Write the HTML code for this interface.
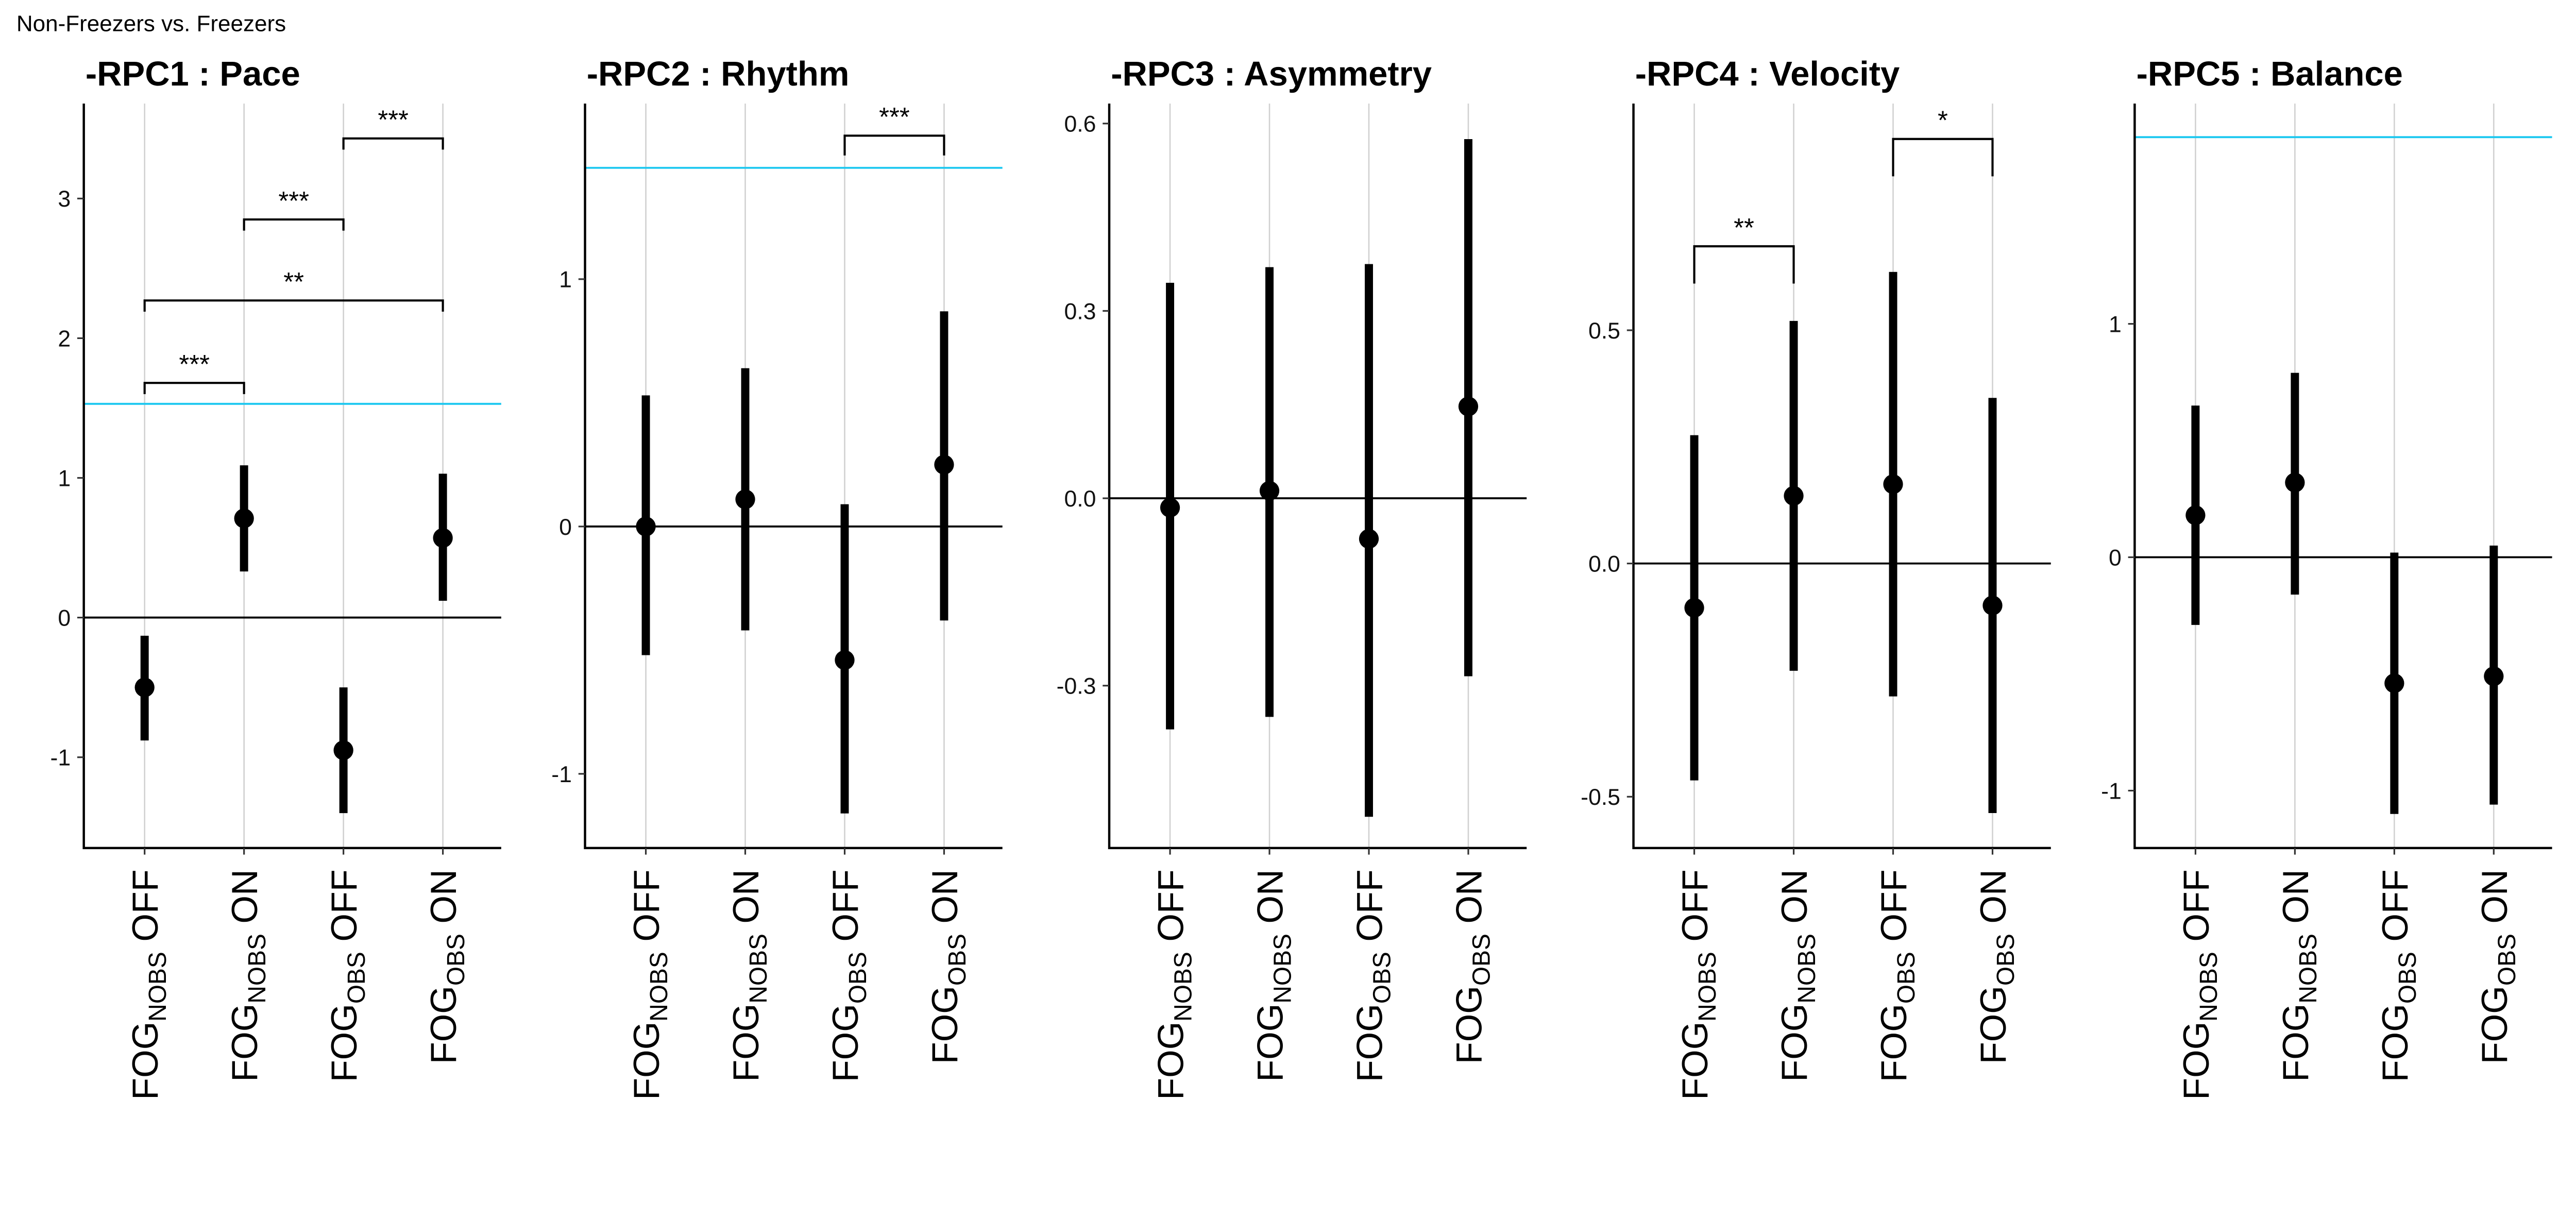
<!DOCTYPE html>
<html><head><meta charset="utf-8"><style>
html,body{margin:0;padding:0;background:#fff;overflow:hidden;}
svg{display:block;}
text{font-family:"Liberation Sans",Arial,sans-serif;}
</style></head><body>
<svg id="chart" width="5314" height="2362" viewBox="0 0 1666 740.5" preserveAspectRatio="none" xmlns="http://www.w3.org/2000/svg">
<rect width="1666" height="740.5" fill="#fff"/>
<text x="10" y="19" font-size="13.8" fill="#000">Non-Freezers vs. Freezers</text>
</svg>
<script>
const panelTitles = ["-RPC1 : Pace", "-RPC2 : Rhythm", "-RPC3 : Asymmetry", "-RPC4 : Velocity", "-RPC5 : Balance"];
const categories = [["FOG","NOBS"," OFF"],["FOG","NOBS"," ON"],["FOG","OBS"," OFF"],["FOG","OBS"," ON"]];
const means = [[-0.50,0.71,-0.95,0.57],[0.00,0.11,-0.54,0.25],[-0.015,0.012,-0.065,0.147],[-0.095,0.145,0.17,-0.09],[0.18,0.32,-0.54,-0.51]];
const lows = [[-0.88,0.33,-1.40,0.12],[-0.52,-0.42,-1.16,-0.38],[-0.37,-0.35,-0.51,-0.285],[-0.465,-0.23,-0.285,-0.535],[-0.29,-0.16,-1.10,-1.06]];
const highs = [[-0.13,1.09,-0.50,1.03],[0.53,0.64,0.09,0.87],[0.345,0.37,0.375,0.575],[0.275,0.52,0.625,0.355],[0.65,0.79,0.02,0.05]];
const yMins = [-1.65,-1.30,-0.56,-0.61,-1.246];
const yMaxs = [3.68,1.71,0.632,0.986,1.944];
const yTicks = [[-1,0,1,2,3],[-1,0,1],[-0.3,0,0.3,0.6],[-0.5,0,0.5],[-1,0,1]];
const yTickLabels = [["-1","0","1","2","3"],["-1","0","1"],["-0.3","0.0","0.3","0.6"],["-0.5","0.0","0.5"],["-1","0","1"]];
const refLines = [1.53,1.45,null,null,1.80];
const brackets = [[[0,1,1.68,"***"],[0,3,2.27,"**"],[1,2,2.85,"***"],[2,3,3.43,"***"]],[[2,3,1.58,"***"]],[],[[0,1,0.68,"**"],[2,3,0.91,"*"]],[]];
const axisLefts = [51,356,675,994,1299];

const NS="http://www.w3.org/2000/svg";
const svg=document.getElementById('chart');
function mk(tag,attrs,parent){const e=document.createElementNS(NS,tag);for(const k in attrs)e.setAttribute(k,attrs[k]);(parent||svg).appendChild(e);return e;}
const TOP=63,BOT=516,W=254;
for(let p=0;p<5;p++){
  const g=mk('g',{});
  
  
  const L=axisLefts[p],R=L+W;
  const y=v=>BOT-(v-yMins[p])/(yMaxs[p]-yMins[p])*(BOT-TOP);
  const x=i=>L+37+i*60.5;
  const t=mk('text',{x:L+1,y:52,'font-size':21,'font-weight':'bold'},g);t.textContent=panelTitles[p];
  
  
  for(let i=0;i<4;i++){const gl=mk('line',{x1:x(i),x2:x(i),y1:TOP,y2:BOT,stroke:'#d0d0d0','stroke-width':0.8},g);
    
    }
  const z=mk('line',{x1:L,x2:R,y1:y(0),y2:y(0),stroke:'#000','stroke-width':1.2},g);
  
  
  if(refLines[p]!==null){const c=mk('line',{x1:L,x2:R,y1:y(refLines[p]),y2:y(refLines[p]),stroke:'#1ec8f0','stroke-width':1.2},g);
    
    }
  const ax=mk('path',{d:`M${L},${TOP}V${BOT}H${R}`,fill:'none',stroke:'#000','stroke-width':1.4},g);
  
  
  yTicks[p].forEach((v,k)=>{
    mk('line',{x1:L-4,x2:L,y1:y(v),y2:y(v),stroke:'#333','stroke-width':1},g);
    const tl=mk('text',{x:L-8,y:y(v)+5,'font-size':14,'text-anchor':'end',fill:'#111'},g);tl.textContent=yTickLabels[p][k];
    
    
  });
  for(let i=0;i<4;i++){
    mk('line',{x1:x(i),x2:x(i),y1:BOT,y2:BOT+4,stroke:'#333','stroke-width':1},g);
    const eb=mk('line',{x1:x(i),x2:x(i),y1:y(lows[p][i]),y2:y(highs[p][i]),stroke:'#000','stroke-width':5},g);
    
    
    const pt=mk('circle',{cx:x(i),cy:y(means[p][i]),r:6,fill:'#000'},g);
    
    
    const c=categories[i];
    const lx=x(i)+8,ly=BOT+13;
    const tx=mk('text',{x:lx,y:ly,'font-size':22,'text-anchor':'end',transform:`rotate(-90 ${lx} ${ly})`},g);
    
    
    const a=mk('tspan',{},tx);a.textContent=c[0];
    const b=mk('tspan',{'font-size':15,dy:5},tx);b.textContent=c[1];
    const d=mk('tspan',{dy:-5},tx);d.textContent=c[2];
  }
  brackets[p].forEach(br=>{
    const yy=y(br[2]),tk=(BOT-TOP)/(yMaxs[p]-yMins[p])*0.08;
    const bp=mk('path',{d:`M${x(br[0])},${yy+tk}V${yy}H${x(br[1])}V${yy+tk}`,fill:'none',stroke:'#000','stroke-width':1.3},g);
    
    
    const st=mk('text',{x:(x(br[0])+x(br[1]))/2,y:yy-6,'font-size':16,'text-anchor':'middle'},g);st.textContent=br[3];
    
    
  });
}
</script>
</body></html>
